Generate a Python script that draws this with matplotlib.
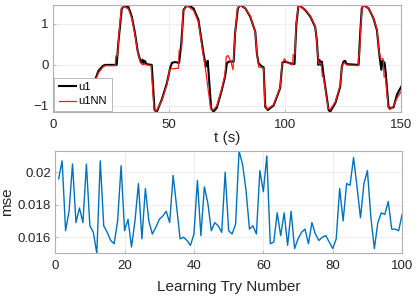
import numpy as np
import matplotlib.pyplot as plt

plt.rcParams['font.family'] = ['Liberation Sans', 'DejaVu Sans']

# u1 (black) key points
t_u1 = [16, 18.1, 19.5, 21.5, 22.5, 27.4, 28.1, 29.6, 31.0, 32.5, 33.9, 35.3, 36.5, 37.5,
        38.0, 38.5, 39.0, 39.5, 40.2, 42.5, 43.7, 44.7, 46.8, 49.0, 50.4, 51.2, 52.5, 54.3,
        55.2, 56.2, 57.5, 58.5, 60.5, 62.6, 64.8, 65.8, 66.4, 66.6, 66.9, 68.1, 69.1, 70.5,
        72.7, 74.1, 74.9, 75.6, 77.8, 78.4, 79.6, 80.6, 82.8, 84.9, 87.1, 87.8, 88.5, 90.0,
        90.7, 91.4, 92.5, 95.0, 97.8, 98.8, 100, 102, 104.0, 104.8, 105.7, 106.4, 108.6,
        110.8, 112.9, 113.6, 114.3, 114.8, 115.3, 115.8, 116.4, 118.7, 119.4, 121.6, 123.7,
        124.4, 125.1, 125.8, 126.5, 131.6, 132.3, 133.0, 133.7, 135.9, 138.0, 139.5, 140.5,
        141.4, 141.9, 142.8, 143.3, 144.5, 145.3, 146.7, 148.1, 150]
u1 = [-0.75, -0.37, -0.15, -0.02, 0.0, 0.0, 0.53, 1.38, 1.44, 1.41, 1.18, 0.77, 0.32, 0.12,
      0.05, 0.13, 0.04, 0.1, 0.02, 0.0, -1.1, -1.14, -0.85, -0.45, -0.08, 0.05, 0.07, 0.05,
      0.5, 1.34, 1.45, 1.45, 1.38, 1.1, 0.28, -0.04, -0.02, 0.1, -0.12, -1.06, -1.14, -1.05,
      -0.61, -0.28, 0.04, 0.08, 0.08, 0.77, 1.38, 1.46, 1.38, 1.18, 0.81, 0.28, 0.04, -0.04,
      -0.06, -1.02, -1.1, -0.99, -0.57, 0.06, 0.08, 0.04, 0.02, 1.0, 1.44, 1.44, 1.34,
      1.18, 0.93, 0.61, 0.0, 0.12, 0.0, 0.08, -0.2, -1.1, -1.14, -0.93, -0.53,
      -0.04, 0.08, 0.1, 0.02, 0.0, 0.77, 1.38, 1.46, 1.38, 1.14, 0.85, 0.28,
      -0.12, 0.1, 0.05, -0.2, -1.02, -1.06, -1.03, -0.73, -0.53]

# u1NN (red) key points
t_nn = [16, 18.1, 19.5, 21.5, 22.5, 26.8, 27.0, 27.8, 28.3, 29.4, 30.7, 32.5, 34, 35.3, 36.5,
        37.5, 38.5, 39.2, 40.5, 42.2, 43.5, 44.5, 46.8, 49, 50.3, 54.0, 54.3, 55.3, 56.0,
        57.3, 58.5, 60.5, 62.6, 64.5, 65.6, 67.9, 69.0, 70.5, 72.7, 74.0, 74.6, 75.3, 76.5,
        77.5, 78.2, 79.4, 80.4, 82.8, 84.9, 87.1, 87.8, 88.6, 90.7, 91.2, 92.3, 95, 97.8,
        98.6, 99.6, 101, 103.2, 103.4, 104.2, 104.7, 105.6, 106.4, 108.6, 110.8, 112.9, 113.6,
        114.3, 115.5, 116.0, 116.5, 118.5, 119.3, 121.6, 123.7, 124.5, 125.5, 126.5, 131.4,
        131.6, 132.0, 132.5, 133.2, 133.7, 135.9, 138, 139.5, 140.5, 141.2, 142.2, 142.6,
        143.2, 144.4, 145.1, 146.7, 148.1, 150]
u1nn = [-0.8, -0.4, -0.2, -0.05, -0.02, -0.02, 0.22, 0.22, 0.7, 1.38, 1.42, 1.36, 1.12, 0.72, 0.3,
        0.08, 0.0, 0.02, 0.0, -0.02, -1.08, -1.12, -0.88, -0.48, -0.1, -0.08, 0.35, 0.35, 1.3,
        1.42, 1.41, 1.33, 1.05, 0.3, -0.08, -1.08, -1.1, -1.0, -0.58, -0.25, 0.2, 0.23, 0.1,
        -0.12, 0.6, 1.38, 1.45, 1.38, 1.2, 0.8, 0.3, -0.05, -0.08, -0.95, -1.08, -0.97, -0.55,
        0.0, 0.15, 0.05, 0.0, 0.25, 0.25, 1.0, 1.42, 1.43, 1.35, 1.2, 0.95, 0.58,
        0.02, 0.05, -0.28, -0.3, -1.05, -1.1, -0.9, -0.5, 0.0, 0.05, 0.0, -0.02,
        0.22, 0.25, 0.9, 1.42, 1.45, 1.38, 1.15, 0.88, 0.3, 0.15, 0.15, -0.3,
        -0.3, -1.05, -1.09, -1.0, -0.82, -0.64]

# mse per learning try
tries = np.arange(1, 101)
mse = [0.0196, 0.0207, 0.0164, 0.0176, 0.0205, 0.0169, 0.0178, 0.0169, 0.0205, 0.0167,
       0.0163, 0.0150, 0.0207, 0.0167, 0.0163, 0.0158, 0.0156, 0.0170, 0.0204, 0.0164,
       0.0171, 0.0154, 0.0170, 0.0193, 0.0159, 0.0190, 0.0170, 0.0162, 0.0166, 0.0171,
       0.0173, 0.0176, 0.0169, 0.0198, 0.0179, 0.0159, 0.0160, 0.0158, 0.0155, 0.0162,
       0.0195, 0.0161, 0.0191, 0.0181, 0.0164, 0.0169, 0.0167, 0.0163, 0.0200, 0.0164,
       0.0162, 0.0168, 0.0213, 0.0205, 0.0189, 0.0165, 0.0167, 0.0162, 0.0201, 0.0188,
       0.0210, 0.0156, 0.0157, 0.0175, 0.0161, 0.0175, 0.0155, 0.0176, 0.0153, 0.0159,
       0.0163, 0.0165, 0.0156, 0.0169, 0.0162, 0.0158, 0.0160, 0.0161, 0.0157, 0.0153,
       0.0159, 0.0190, 0.0170, 0.0193, 0.0192, 0.0209, 0.0191, 0.0172, 0.0193, 0.0201,
       0.0172, 0.0153, 0.0169, 0.0175, 0.0174, 0.0182, 0.0165, 0.0165, 0.0164, 0.0174]

fig = plt.figure(figsize=(4.18, 2.98), dpi=100)
ax1 = fig.add_axes([0.127, 0.624, 0.833, 0.359])
ax2 = fig.add_axes([0.132, 0.151, 0.830, 0.342])

def style(ax):
    ax.grid(True, color='#ebebeb', linewidth=0.6)
    ax.set_axisbelow(True)
    for s in ax.spines.values():
        s.set_color('#b0b0b0')
        s.set_linewidth(0.8)
    ax.tick_params(direction='in', length=2, width=0.6, color='#b0b0b0',
                   labelsize=9.5, labelcolor='#262626')
    ax.tick_params(axis='x', pad=5)
    ax.tick_params(axis='y', pad=3)

ax1.plot(t_u1, u1, color='black', linewidth=1.5, label='u1')
ax1.plot(t_nn, u1nn, color='#ff1a1a', linewidth=0.9, label='u1NN')
ax1.set_xlim(0, 150)
ax1.set_ylim(-1.15, 1.46)
ax1.set_xticks([0, 50, 100, 150])
ax1.set_yticks([-1, 0, 1])
ax1.set_xlabel('t (s)', fontsize=11, color='#262626', labelpad=0)
style(ax1)
leg = ax1.legend(loc='lower left', fontsize=8, borderaxespad=0.1, handlelength=1.6,
                 handletextpad=0.2, borderpad=0.4, labelspacing=0.4, fancybox=False,
                 framealpha=1)
leg.get_frame().set_edgecolor('#b0b0b0')
leg.get_frame().set_linewidth(0.6)

ax2.plot(tries, mse, color='#0072BD', linewidth=1.0)
ax2.set_xlim(0, 100)
ax2.set_ylim(0.01503, 0.0213)
ax2.set_xticks([0, 20, 40, 60, 80, 100])
ax2.set_yticks([0.016, 0.018, 0.02])
ax2.set_yticklabels(['0.016', '0.018', '0.02'])
ax2.set_xlabel('Learning Try Number', fontsize=11, color='#262626', labelpad=6)
ax2.set_ylabel('mse', fontsize=11, color='#262626')
ax2.yaxis.set_label_coords(-0.118, 0.5)
style(ax2)

fig.savefig('out.png', dpi=100)
